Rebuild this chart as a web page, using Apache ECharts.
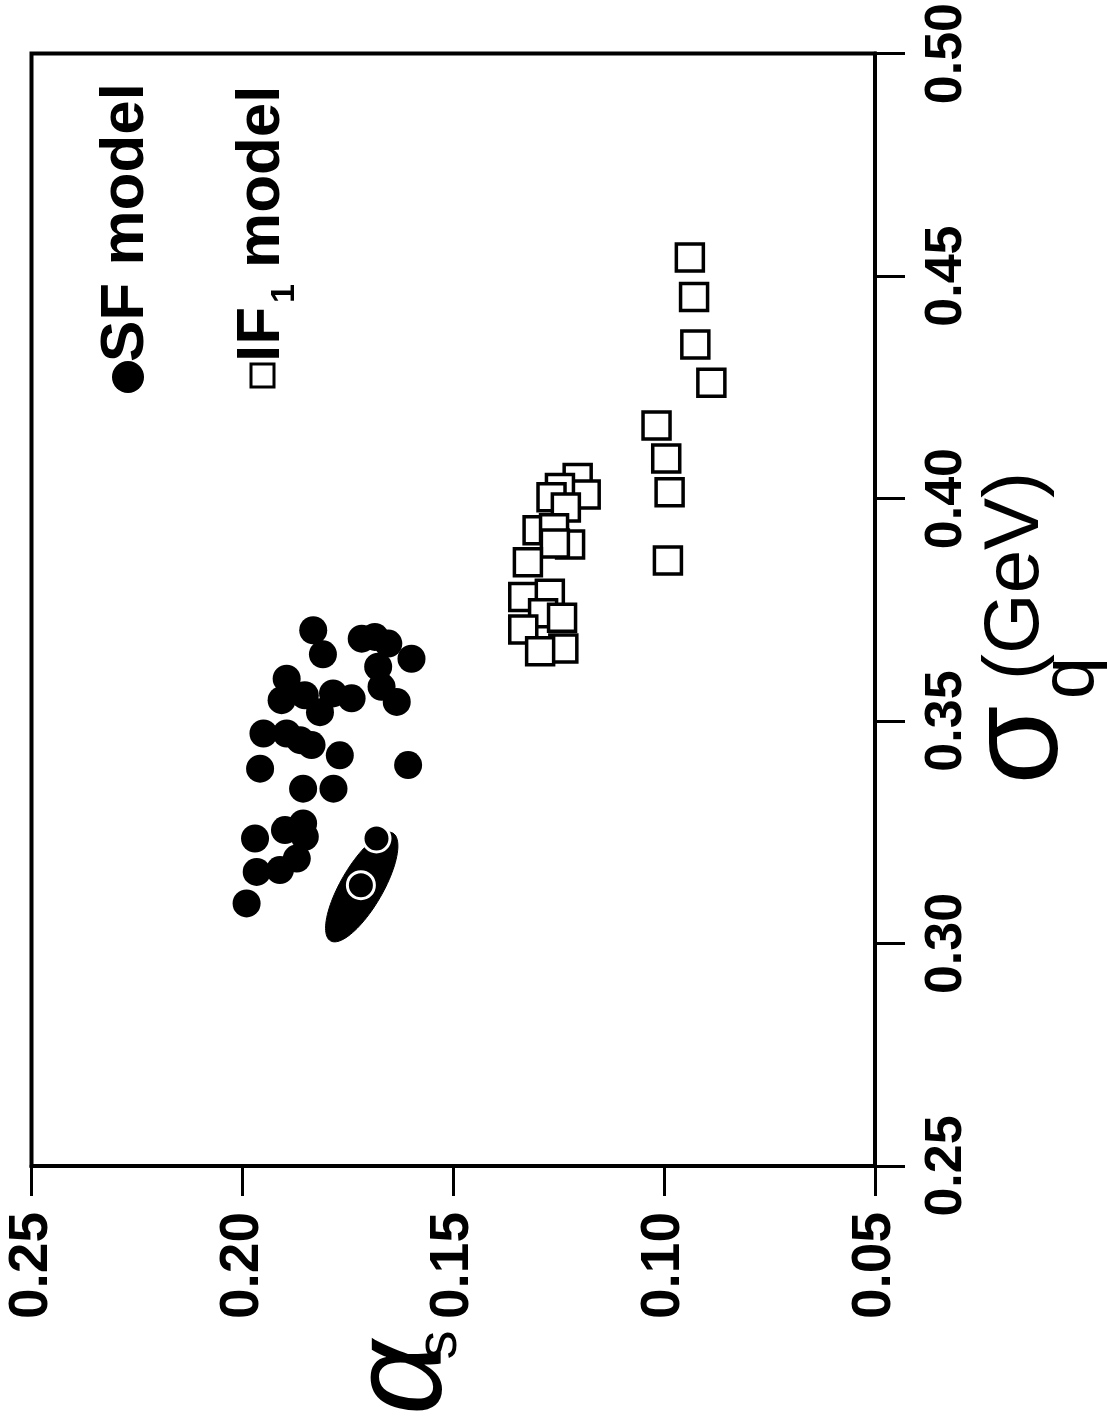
<!DOCTYPE html>
<html>
<head>
<meta charset="utf-8">
<script src="https://cdn.jsdelivr.net/npm/echarts@6/dist/echarts.min.js"></script>
<style>
html,body{margin:0;padding:0;background:#fff;}
#chart{width:1107px;height:1426px;}
</style>
</head>
<body>
<div id="chart"></div>
<script>
// αs axis (horizontal, decreasing to the right) and σq axis (vertical, on the right)
const alphaTicks = [0.05, 0.10, 0.15, 0.20, 0.25];
const sigmaTicks = [0.25, 0.30, 0.35, 0.40, 0.45, 0.50];

// SF model points: [alpha_s, sigma_q (GeV)]
const sfPoints = [
  [0.1832,0.3704],[0.1809,0.3650],[0.1717,0.3685],[0.1686,0.3689],[0.1654,0.3674],
  [0.1599,0.3640],[0.1678,0.3622],[0.1670,0.3577],[0.1634,0.3543],[0.1895,0.3595],
  [0.1907,0.3547],[0.1852,0.3558],[0.1816,0.3520],[0.1785,0.3562],[0.1741,0.3551],
  [0.1950,0.3472],[0.1895,0.3472],[0.1863,0.3457],[0.1836,0.3446],[0.1769,0.3423],
  [0.1958,0.3393],[0.1607,0.3401],[0.1856,0.3348],[0.1784,0.3348],[0.1970,0.3236],
  [0.1899,0.3255],[0.1856,0.3270],[0.1852,0.3240],[0.1871,0.3191],[0.1911,0.3165],
  [0.1966,0.3161],[0.1990,0.3090]
];

// IF1 model points: [alpha_s, sigma_q (GeV)]
const if1Points = [
  [0.1205,0.4046],[0.1186,0.4009],[0.1247,0.4024],[0.1267,0.4003],[0.1233,0.3980],
  [0.1300,0.3929],[0.1261,0.3933],[0.1223,0.3897],[0.1259,0.3899],[0.1323,0.3857],
  [0.1334,0.3779],[0.1271,0.3786],[0.1287,0.3742],[0.1242,0.3732],[0.1334,0.3706],
  [0.1239,0.3663],[0.1294,0.3657],
  [0.0939,0.4542],[0.0929,0.4453],[0.0926,0.4346],[0.0888,0.4260],[0.1018,0.4164],
  [0.0995,0.4090],[0.0987,0.4014],[0.0991,0.3861]
];

// Best-fit markers inside / at the edge of the ellipse
const bestFit = [[0.1719,0.3131],[0.1682,0.3236]];

// Allowed region ellipse: [centre alpha, centre sigma, tip alpha, tip sigma, minor/major ratio]
const ellipseData = [[0.1717,0.3127,0.1643,0.3248,0.34]];

const chart = echarts.init(document.getElementById('chart'));
const FONT = "'Liberation Sans', Arial, Helvetica, sans-serif";

function rotText(x, y, text, size, opts) {
  opts = opts || {};
  return {
    type: 'text', x: x, y: y, rotation: Math.PI / 2, z: 100,
    style: {
      text: text, fill: '#000',
      font: (opts.style || 'normal') + ' ' + (opts.weight || 'normal') + ' ' + size + 'px ' + (opts.family || FONT),
      textAlign: opts.align || 'center', align: opts.align || 'center',
      textVerticalAlign: 'middle', verticalAlign: 'middle'
    }
  };
}

const option = {
  animation: false,
  backgroundColor: '#fff',
  grid: { left: 31.5, right: 232, top: 53, bottom: 260, show: true, borderColor: '#000', borderWidth: 4, backgroundColor: 'transparent' },
  xAxis: {
    type: 'value', inverse: true, position: 'bottom',
    min: alphaTicks[0], max: alphaTicks[alphaTicks.length - 1], interval: 0.05,
    axisLine: { show: true, onZero: false, lineStyle: { color: '#000', width: 4 } },
    axisTick: { show: true, inside: false, length: 30, lineStyle: { color: '#000', width: 3 } },
    splitLine: { show: false },
    axisLabel: { rotate: 90, margin: 46, color: '#000', fontSize: 55, fontWeight: 'bold', fontFamily: FONT,
      formatter: v => v.toFixed(2), showMinLabel: true, showMaxLabel: true }
  },
  yAxis: {
    type: 'value', position: 'right',
    min: sigmaTicks[0], max: sigmaTicks[sigmaTicks.length - 1], interval: 0.05,
    axisLine: { show: true, onZero: false, lineStyle: { color: '#000', width: 4 } },
    axisTick: { show: true, inside: false, length: 30, lineStyle: { color: '#000', width: 3 } },
    splitLine: { show: false },
    axisLabel: { rotate: 90, margin: 46, color: '#000', fontSize: 52, fontWeight: 'bold', fontFamily: FONT,
      formatter: v => v.toFixed(2), showMinLabel: true, showMaxLabel: true }
  },
  series: [
    {
      name: 'allowed region', type: 'custom', data: ellipseData, z: 3,
      renderItem: function (params, api) {
        const c = api.coord([api.value(0), api.value(1)]);
        const t = api.coord([api.value(2), api.value(3)]);
        const ax = t[0] - c[0], ay = t[1] - c[1];
        const a = Math.sqrt(ax * ax + ay * ay);
        const b = a * api.value(4);
        const ux = ax / a, uy = ay / a;
        const pts = [];
        for (let i = 0; i < 96; i++) {
          const th = i / 96 * Math.PI * 2;
          const p = a * Math.cos(th), q = b * Math.sin(th);
          pts.push([c[0] + p * ux - q * uy, c[1] + p * uy + q * ux]);
        }
        return { type: 'polygon', shape: { points: pts }, style: { fill: '#000', stroke: '#000', lineWidth: 1 } };
      }
    },
    {
      name: 'SF model', type: 'scatter', data: sfPoints, symbol: 'circle', symbolSize: 28, z: 4,
      itemStyle: { color: '#000', opacity: 1 }
    },
    {
      name: 'best fit', type: 'scatter', data: bestFit, symbol: 'circle', symbolSize: 27, z: 5,
      itemStyle: { color: '#000', borderColor: '#fff', borderWidth: 3, opacity: 1 }
    },
    {
      name: 'IF1 model', type: 'scatter', data: if1Points, symbol: 'rect', symbolSize: 27, z: 4,
      itemStyle: { color: '#fff', borderColor: '#000', borderWidth: 3.5, opacity: 1 }
    }
  ],
  graphic: [
    // legend: SF model
    { type: 'circle', x: 128, y: 377, z: 100, shape: { r: 16 }, style: { fill: '#000' } },
    rotText(126, 362, 'SF model', 62, { weight: 'bold', align: 'left' }),
    // legend: IF1 model
    { type: 'rect', x: 251, y: 364, z: 100, shape: { width: 23, height: 23 }, style: { fill: '#fff', stroke: '#000', lineWidth: 3 } },
    rotText(262, 362, 'IF', 62, { weight: 'bold', align: 'left' }),
    rotText(285, 303, '1', 34, { weight: 'bold', align: 'left' }),
    rotText(262, 268, 'model', 62, { weight: 'bold', align: 'left' }),
    // y-axis (sigma_q) title
    rotText(1022, 745, 'σ', 128, {}),
    rotText(1072, 678, 'q', 76, {}),
    rotText(1016, 576, '(GeV)', 78, {}),
    // x-axis (alpha_s) title
    rotText(405, 1378, 'α', 130, { style: 'italic' }),
    rotText(440, 1345, 's', 58, {})
  ]
};
chart.setOption(option);
</script>
</body>
</html>
